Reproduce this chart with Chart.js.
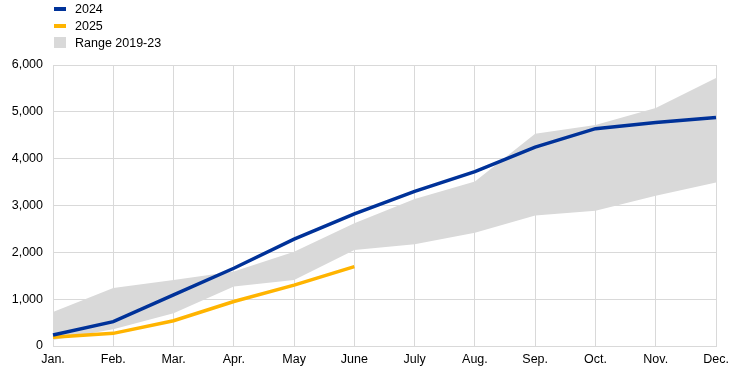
<!DOCTYPE html>
<html>
<head>
<meta charset="utf-8">
<script src="https://cdn.jsdelivr.net/npm/chart.js@4"></script>
<style>
  html, body { margin: 0; padding: 0; background: #fff; }
  #wrap { position: relative; width: 744px; height: 373px; }
  #legend { position: absolute; left: 54px; top: 0px; font: 12.5px "Liberation Sans", Arial, sans-serif; color: #000; }
  #legend div { height: 17px; line-height: 16px; display: flex; align-items: center; }
  #legend span.key { display: inline-block; width: 12px; margin-right: 9px; }
</style>
</head>
<body>
<div id="wrap">
  <canvas id="chart" width="744" height="373"></canvas>
  <div id="legend">
    <div><span class="key" style="height:4px;background:#003299"></span>2024</div>
    <div><span class="key" style="height:4px;background:#ffb400"></span>2025</div>
    <div><span class="key" style="height:11px;background:#d9d9d9"></span>Range 2019-23</div>
  </div>
</div>
<script>
// Données
const months = ['Jan.', 'Feb.', 'Mar.', 'Apr.', 'May', 'June', 'July', 'Aug.', 'Sep.', 'Oct.', 'Nov.', 'Dec.'];
const values2024 = [235, 520, 1090, 1660, 2280, 2820, 3300, 3725, 4245, 4640, 4770, 4880];
const values2025 = [185, 270, 540, 950, 1300, 1695];
const rangeLow = [130, 360, 700, 1270, 1410, 2050, 2170, 2420, 2785, 2890, 3210, 3490];
const rangeHigh = [726, 1240, 1410, 1590, 2015, 2620, 3140, 3510, 4530, 4720, 5080, 5720];

const font = { family: "'Liberation Sans', Arial, sans-serif", size: 12.5 };

new Chart(document.getElementById('chart'), {
    type: 'line',
    data: {
        labels: months,
        datasets: [
            {
                label: 'low',
                data: rangeLow,
                borderWidth: 0,
                pointRadius: 0,
                fill: false,
                order: 3
            },
            {
                label: 'Range 2019-23',
                data: rangeHigh,
                borderWidth: 0,
                pointRadius: 0,
                backgroundColor: '#d9d9d9',
                fill: '-1',
                order: 3
            },
            {
                label: '2025',
                data: values2025,
                borderColor: '#ffb400',
                borderWidth: 3.5,
                pointRadius: 0,
                fill: false,
                order: 2
            },
            {
                label: '2024',
                data: values2024,
                borderColor: '#003299',
                borderWidth: 3.5,
                pointRadius: 0,
                fill: false,
                order: 1
            }
        ]
    },
    options: {
        responsive: false,
        animation: false,
        layout: { padding: { top: 65, right: 28, left: 0, bottom: 0 } },
        plugins: {
            legend: { display: false },
            tooltip: { enabled: false }
        },
        scales: {
            x: {
                grid: { color: '#d9d9d9', drawTicks: false },
                border: { color: '#d9d9d9' },
                ticks: { color: '#000', font: font, padding: 6, maxRotation: 0 },
                afterFit: scale => { scale.height = 27; }
            },
            y: {
                min: 0,
                max: 6000,
                grid: { color: '#d9d9d9', drawTicks: false },
                border: { color: '#d9d9d9' },
                ticks: {
                    stepSize: 1000,
                    color: '#000',
                    font: font,
                    padding: 10,
                    callback: v => v.toLocaleString('en-US')
                },
                afterFit: scale => { scale.width = 53; }
            }
        }
    }
});
</script>
</body>
</html>
